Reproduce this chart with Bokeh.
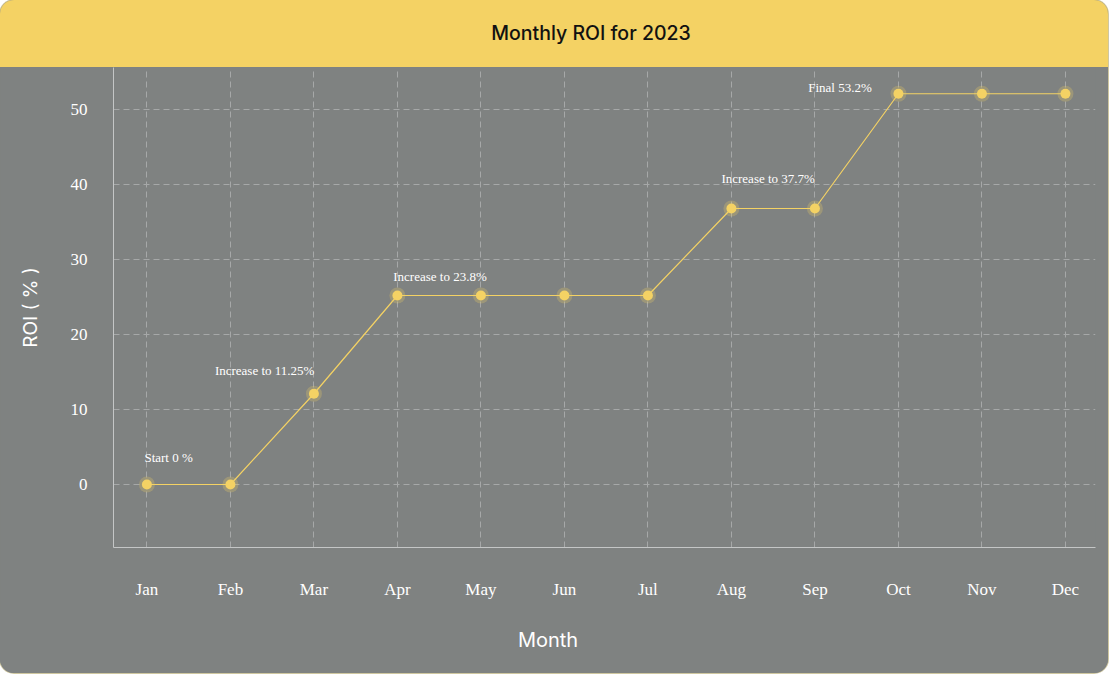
from bokeh.plotting import figure
from bokeh.models import Range1d, FixedTicker, Div, ColumnDataSource
from bokeh.layouts import column
from bokeh.core.properties import value
from bokeh.embed import file_html
from bokeh.resources import INLINE

# ---- data ----
months = ["Jan", "Feb", "Mar", "Apr", "May", "Jun", "Jul", "Aug", "Sep", "Oct", "Nov", "Dec"]
roi = [0, 0, 12.1, 25.2, 25.2, 25.2, 25.2, 36.8, 36.8, 52.1, 52.1, 52.1]
y_ticks = [0, 10, 20, 30, 40, 50]

ann_text = ["Start 0 %", "Increase to 11.25%", "Increase to 23.8%", "Increase to 37.7%", "Final 53.2%"]
ann_x = [0.26, 1.41, 3.51, 7.44, 8.30]
ann_y = [3.6, 15.2, 27.7, 40.8, 52.9]

title_text = "Monthly ROI for 2023"
x_title = "Month"
y_title = "ROI ( % )"

# ---- styles ----
BG = "#7f8281"
YEL = "#f4d264"
GRID = "#a6a8a8"
AXIS = "#c4c6c6"
SERIF = "Liberation Serif"
SANS = "Inter"

W = 1108
HEAD_H = 67
FIG_H = 545
FOOT_H = 61

x_idx = list(range(len(months)))

header = Div(
    text=title_text,
    width=W, height=HEAD_H, margin=0,
    styles={
        "background-color": YEL,
        "font-family": SANS,
        "font-size": "19.5px",
        "font-weight": "500",
        "color": "#111111",
        "display": "flex",
        "align-items": "center",
        "justify-content": "center",
        "text-align": "center",
        "padding-left": "74px",
        "box-sizing": "border-box",
    },
)

footer = Div(
    text=x_title,
    width=W, height=FOOT_H, margin=0,
    styles={
        "background-color": BG,
        "font-family": SANS,
        "font-size": "20px",
        "color": "white",
        "display": "flex",
        "align-items": "center",
        "justify-content": "center",
        "text-align": "center",
        "padding-right": "12px",
        "padding-bottom": "4px",
        "box-sizing": "border-box",
    },
)

p = figure(
    width=W, height=FIG_H,
    x_range=Range1d(-0.4, 11.36), y_range=Range1d(-8.4, 55.6),
    output_backend="svg", toolbar_location=None,
    min_border_left=113, min_border_right=13, min_border_top=0, min_border_bottom=65,
    margin=0,
)
p.background_fill_color = BG
p.border_fill_color = BG
p.outline_line_color = None

for ax in (p.xaxis[0], p.yaxis[0]):
    ax.axis_line_color = AXIS
    ax.axis_line_width = 1
    ax.major_tick_line_color = None
    ax.minor_tick_line_color = None
    ax.major_label_text_color = "white"
    ax.major_label_text_font = SERIF
    ax.major_label_text_font_size = "17px"
    ax.axis_label_text_color = "white"
    ax.axis_label_text_font = SANS
    ax.axis_label_text_font_style = "normal"

p.xaxis.ticker = FixedTicker(ticks=x_idx)
p.xaxis.major_label_overrides = {i: m for i, m in enumerate(months)}
p.xaxis.major_label_standoff = 26

p.yaxis.ticker = FixedTicker(ticks=y_ticks)
p.yaxis.major_label_standoff = 20
p.yaxis.axis_label = y_title
p.yaxis.axis_label_text_font_size = "19px"
p.yaxis.axis_label_standoff = 26

for g in (p.xgrid[0], p.ygrid[0]):
    g.grid_line_color = GRID
    g.grid_line_dash = "6 4"
    g.grid_line_width = 1

src = ColumnDataSource(dict(x=x_idx, y=roi))
p.line("x", "y", source=src, line_color=YEL, line_width=1.2)
p.scatter("x", "y", source=src, size=16, fill_color=YEL, fill_alpha=0.25, line_color=None)
p.scatter("x", "y", source=src, size=10, fill_color=YEL, line_color=None)

asrc = ColumnDataSource(dict(x=ann_x, y=ann_y, t=ann_text))
p.text("x", "y", text="t", source=asrc, text_color="white",
       text_font=value(SERIF), text_font_size="13px",
       text_align="center", text_baseline="middle")

layout = column(
    header, p, footer,
    margin=0,
    styles={
        "border-radius": "14px",
        "overflow": "hidden",
        "box-shadow": "0 0 0 1px #cfc7a0",
        "background-color": BG,
    },
)

open("out.html", "w").write(file_html(layout, INLINE))
